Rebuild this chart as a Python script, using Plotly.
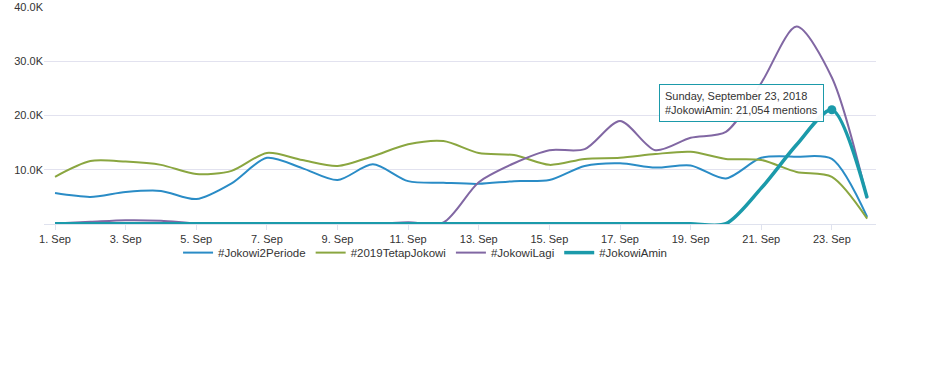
import plotly.graph_objects as go
import pandas as pd

dates = pd.date_range("2018-09-01", "2018-09-24", freq="D")

jokowi2periode = [5.7, 5.0, 5.9, 6.1, 4.6, 7.5, 12.2, 10.3, 8.1, 11.0, 7.9, 7.6, 7.4, 7.9, 8.1, 10.7,
                  11.2, 10.4, 10.8, 8.4, 12.2, 12.4, 12.0, 1.3]
tetap_jokowi = [8.7, 11.6, 11.5, 10.9, 9.2, 9.8, 13.1, 11.8, 10.7, 12.5, 14.7, 15.3, 13.1, 12.7, 10.9, 12.0,
                12.2, 12.9, 13.3, 12.0, 11.8, 9.6, 8.7, 1.0]
jokowi_lagi = [0.1, 0.4, 0.7, 0.6, 0.1, 0.0, 0.0, 0.0, 0.2, 0.1, 0.3, 0.3, 7.7, 11.2, 13.6, 13.8,
               19.0, 13.6, 15.9, 17.0, 26.0, 36.4, 27.0, 4.7]
jokowi_amin = [0.05, 0.05, 0.05, 0.05, 0.05, 0.05, 0.05, 0.05, 0.05, 0.05, 0.05, 0.05, 0.05, 0.05, 0.05, 0.05,
               0.05, 0.05, 0.05, 0.05, 6.6, 14.6, 21.054, 4.8]

series_names = ["#Jokowi2Periode", "#2019TetapJokowi", "#JokowiLagi", "#JokowiAmin"]
colors = ["#2a8cc6", "#8aa640", "#8167a3", "#1b9aaa"]
widths = [2, 2, 2, 3.5]
all_values = [jokowi2periode, tetap_jokowi, jokowi_lagi, jokowi_amin]

ytick_vals = [10000, 20000, 30000, 40000]
ytick_text = ["10.0K", "20.0K", "30.0K", "40.0K"]

fig = go.Figure()
for name, vals, c, w in zip(series_names, all_values, colors, widths):
    fig.add_trace(go.Scatter(
        x=dates, y=[v * 1000 for v in vals], name=name, mode="lines",
        line=dict(color=c, width=w, shape="spline", smoothing=0.8),
    ))

# hovered point marker
hover_idx = 22
fig.add_trace(go.Scatter(
    x=[dates[hover_idx]], y=[jokowi_amin[hover_idx] * 1000], mode="markers",
    marker=dict(color=colors[3], size=9), showlegend=False, hoverinfo="skip",
))

fig.add_annotation(
    x=dates[hover_idx], y=jokowi_amin[hover_idx] * 1000,
    text="Sunday, September 23, 2018<br>#JokowiAmin: 21,054 mentions",
    showarrow=False, xanchor="right", yanchor="middle", xshift=-8, yshift=7,
    align="left", bgcolor="rgba(255,255,255,0.95)", bordercolor=colors[3],
    borderwidth=1, borderpad=5,
    font=dict(family="Liberation Sans, Arial", size=11, color="#333333"),
)

fig.update_layout(
    width=936, height=377,
    margin=dict(l=44, r=60, t=7, b=153),
    paper_bgcolor="white", plot_bgcolor="white",
    font=dict(family="Liberation Sans, Arial", size=11, color="#333333"),
    showlegend=True,
    legend=dict(orientation="h", x=0.458, xanchor="center", y=-0.065, yanchor="top",
                bgcolor="rgba(0,0,0,0)",
                font=dict(size=11.5, color="#333333"), itemwidth=30, tracegroupgap=0),
    hovermode=False,
)
fig.update_xaxes(
    range=[dates[0] - pd.Timedelta(hours=7.5), dates[-1] + pd.Timedelta(hours=6)],
    tickformat="%-d. %b", dtick=2 * 86400000, tick0=dates[0],
    showgrid=False, showline=True, linecolor="#dfe2ee", linewidth=1,
    ticks="outside", ticklen=5, tickcolor="#dfe2ee",
    tickfont=dict(size=11, color="#333333"), automargin=False,
)
fig.update_yaxes(
    range=[0, 40000], tickvals=ytick_vals, ticktext=ytick_text,
    showgrid=True, gridcolor="#e2e2ef", gridwidth=1, zeroline=False,
    tickfont=dict(size=11, color="#333333"), automargin=False,
)

fig.write_html("out.html", config={"displayModeBar": False},
               post_script="document.body.style.margin='0px';document.body.style.overflow='hidden';")
